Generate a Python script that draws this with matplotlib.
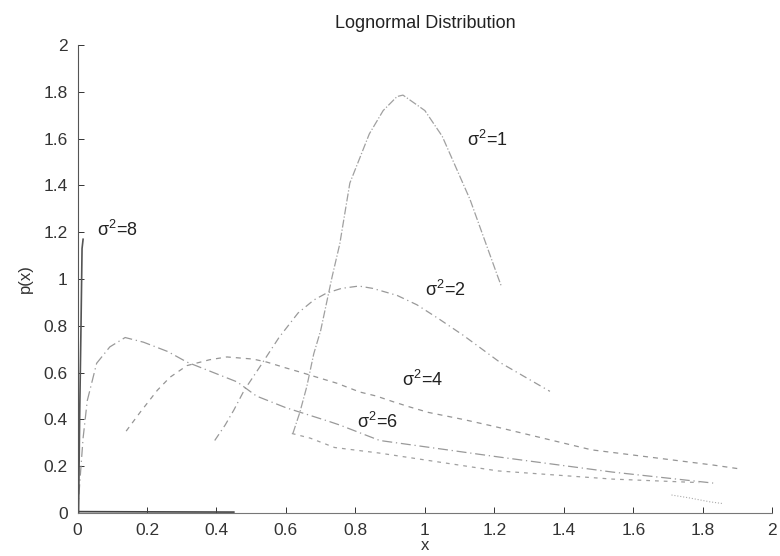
import matplotlib
matplotlib.use("Agg")
import matplotlib.pyplot as plt

plt.rcParams['font.family'] = ['Liberation Sans', 'DejaVu Sans']
plt.rcParams['mathtext.fontset'] = 'custom'
plt.rcParams['mathtext.rm'] = 'Liberation Sans'
plt.rcParams['mathtext.it'] = 'Liberation Sans'

# points
s1_x = [0.62, 0.64, 0.66, 0.68, 0.70, 0.733, 0.755, 0.784, 0.84, 0.88, 0.92, 0.937, 1.0, 1.05, 1.13, 1.21, 1.22]
s1_y = [0.34, 0.43, 0.54, 0.68, 0.78, 1.01, 1.15, 1.41, 1.62, 1.72, 1.78, 1.786, 1.72, 1.61, 1.34, 1.01, 0.97]
s1_tail_x = [1.71, 1.76, 1.82, 1.86]
s1_tail_y = [0.077, 0.065, 0.048, 0.04]

s2_x = [0.395, 0.425, 0.45, 0.48, 0.525, 0.58, 0.635, 0.68, 0.717, 0.76, 0.81, 0.85, 0.92, 0.977, 1.04, 1.11, 1.22, 1.36]
s2_y = [0.31, 0.376, 0.44, 0.525, 0.625, 0.75, 0.855, 0.91, 0.94, 0.96, 0.97, 0.96, 0.93, 0.89, 0.83, 0.76, 0.64, 0.52]

s4_x = [0.14, 0.18, 0.23, 0.266, 0.315, 0.38, 0.43, 0.505, 0.545, 0.6, 0.646, 0.69, 0.746, 0.813, 0.86, 0.91, 0.957, 1.01, 1.11, 1.2, 1.48, 1.83, 1.9]
s4_y = [0.35, 0.43, 0.525, 0.58, 0.63, 0.655, 0.667, 0.658, 0.645, 0.62, 0.60, 0.58, 0.555, 0.517, 0.50, 0.475, 0.453, 0.43, 0.40, 0.37, 0.27, 0.205, 0.19]

s6_x = [0.0, 0.007, 0.016, 0.028, 0.055, 0.093, 0.137, 0.19, 0.26, 0.315, 0.46, 0.515, 0.6, 0.727, 0.755, 0.87, 1.21, 1.54, 1.83]
s6_y = [0.0, 0.14, 0.32, 0.48, 0.64, 0.71, 0.75, 0.73, 0.69, 0.645, 0.56, 0.50, 0.45, 0.39, 0.376, 0.31, 0.24, 0.175, 0.128]

s8_spike_x = [0.003, 0.006, 0.01, 0.013, 0.016]
s8_spike_y = [0.0, 0.4, 0.8, 1.13, 1.17]
s8_tail_x = [0.617, 0.67, 0.74, 0.87, 1.21, 1.54, 1.79]
s8_tail_y = [0.34, 0.32, 0.28, 0.256, 0.18, 0.145, 0.13]
s8_floor_x = [0.0, 0.2, 0.45]
s8_floor_y = [0.006, 0.005, 0.004]

labels = [r'$\sigma^{2}$=1', r'$\sigma^{2}$=2', r'$\sigma^{2}$=4', r'$\sigma^{2}$=6', r'$\sigma^{2}$=8']
label_x = [1.12, 1.0, 0.934, 0.804, 0.056]
label_y = [1.594, 0.955, 0.57, 0.39, 1.21]

ticks = [0, 0.2, 0.4, 0.6, 0.8, 1, 1.2, 1.4, 1.6, 1.8, 2]
tick_labels = ['0', '0.2', '0.4', '0.6', '0.8', '1', '1.2', '1.4', '1.6', '1.8', '2']

fig = plt.figure(figsize=(7.8, 5.56), dpi=100)
ax = fig.add_axes([0.0994, 0.0773, 0.8906, 0.8417])

ax.plot(s1_x, s1_y, color='#a0a0a0', lw=0.9, ls='-.')
ax.plot(s1_tail_x, s1_tail_y, color='#aaaaaa', lw=0.8, ls=':')
ax.plot(s2_x, s2_y, color='#999999', lw=0.9, ls=(0, (6, 3, 1, 3)))
ax.plot(s4_x, s4_y, color='#959595', lw=0.9, ls=(0, (4, 4)))
ax.plot(s6_x, s6_y, color='#999999', lw=0.9, ls=(0, (8, 3, 1, 3)))
ax.plot(s8_spike_x, s8_spike_y, color='#555555', lw=1.2)
ax.plot(s8_tail_x, s8_tail_y, color='#a0a0a0', lw=0.9, ls=(0, (3, 4)))
ax.plot(s8_floor_x, s8_floor_y, color='#444444', lw=1.2)

for lab, lx, ly in zip(labels, label_x, label_y):
	ax.text(lx, ly, lab, fontsize=13, color='#222222', va='center', ha='left')

ax.set_xlim(0, 2)
ax.set_ylim(0, 2)
ax.set_xticks(ticks)
ax.set_xticklabels(tick_labels)
ax.set_yticks(ticks)
ax.set_yticklabels(tick_labels)
ax.tick_params(direction='in', length=4, labelsize=12.5, colors='#333333', width=0.7, pad=7)
ax.spines['top'].set_visible(False)
ax.spines['right'].set_visible(False)
ax.spines['left'].set_color('#555555')
ax.spines['bottom'].set_color('#777777')

ax.set_title('Lognormal Distribution', fontsize=13, color='#222222', pad=12)
ax.set_xlabel('x', fontsize=12, color='#333333', labelpad=0)
ax.set_ylabel('p(x)', fontsize=12, color='#333333', labelpad=8)

fig.savefig('out.png', dpi=100)
